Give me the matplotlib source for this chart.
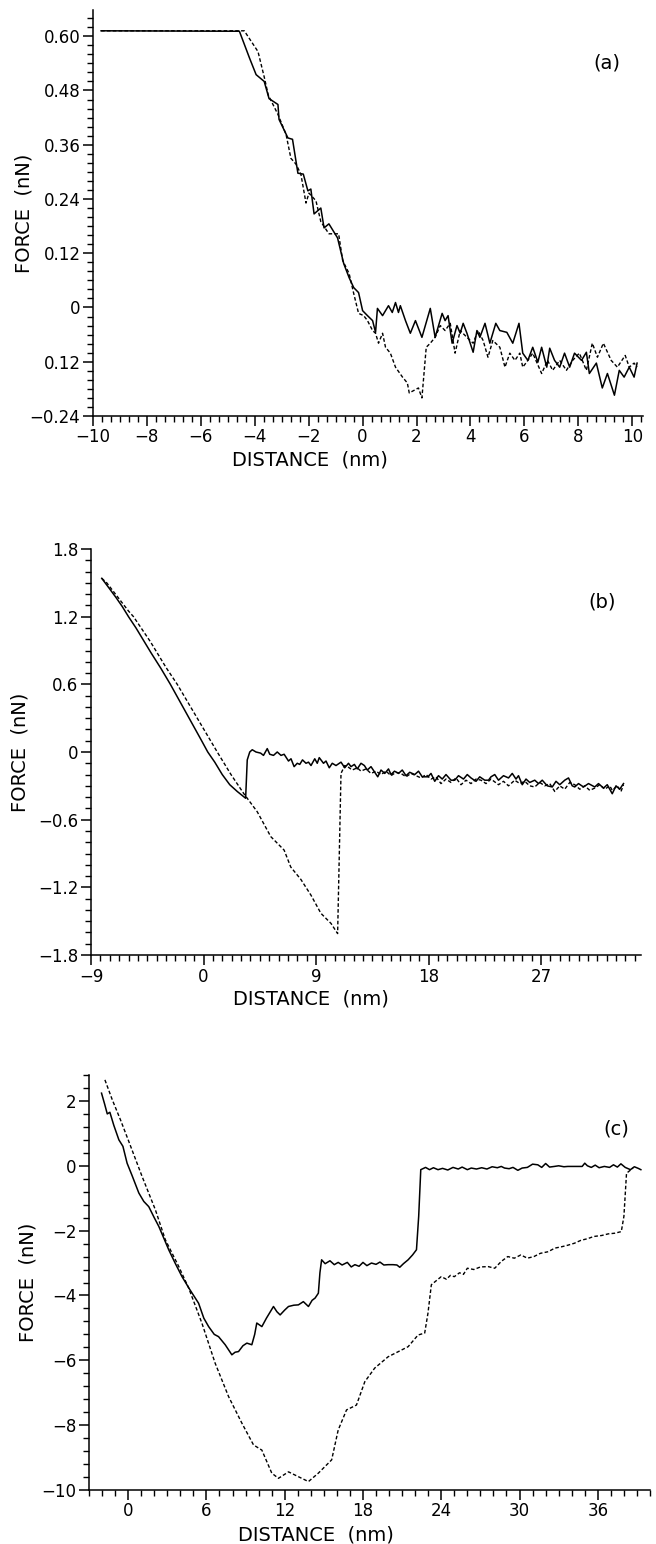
import numpy as np
import matplotlib
matplotlib.use("Agg")
import matplotlib.pyplot as plt
from matplotlib.ticker import MultipleLocator, FixedLocator

# ---- panel (a) ----
a_solid_x = [-9.7, -4.57, -4.19, -3.95, -3.65, -3.47, -3.14, -3.1, -2.77, -2.6, -2.4, -2.2,
             -2.03, -1.92, -1.8, -1.55, -1.43, -1.25, -0.93, -0.7, -0.5, -0.33, -0.15, 0.0,
             0.18, 0.37, 0.48, 0.55, 0.74, 0.96, 1.1, 1.22, 1.33, 1.4, 1.59, 1.77, 1.96,
             2.2, 2.51, 2.69, 2.95, 3.06, 3.17, 3.32, 3.5, 3.62, 3.73, 3.87, 4.1, 4.24,
             4.35, 4.54, 4.72, 4.94, 5.09, 5.35, 5.57, 5.8, 5.94, 6.13, 6.31, 6.5, 6.64,
             6.83, 6.94, 7.12, 7.31, 7.49, 7.68, 7.86, 8.12, 8.3, 8.41, 8.67, 8.89, 9.08,
             9.34, 9.52, 9.7, 9.89, 10.07, 10.18]
a_solid_y = [0.612, 0.611, 0.551, 0.515, 0.50, 0.462, 0.449, 0.416, 0.375, 0.372, 0.297, 0.295,
             0.258, 0.262, 0.207, 0.22, 0.176, 0.185, 0.154, 0.097, 0.066, 0.044, 0.033, -0.007,
             -0.018, -0.029, -0.055, -0.002, -0.018, 0.004, -0.011, 0.011, -0.011, 0.004, -0.029,
             -0.057, -0.029, -0.066, -0.002, -0.066, -0.013, -0.029, -0.018, -0.079, -0.04,
             -0.057, -0.035, -0.057, -0.099, -0.051, -0.066, -0.035, -0.079, -0.035, -0.051,
             -0.055, -0.079, -0.035, -0.101, -0.117, -0.088, -0.121, -0.088, -0.132, -0.09,
             -0.117, -0.132, -0.101, -0.132, -0.101, -0.117, -0.099, -0.146, -0.123, -0.178,
             -0.146, -0.194, -0.139, -0.154, -0.132, -0.154, -0.123]
a_dash_x = [-9.7, -4.39, -3.88, -3.65, -3.5, -3.14, -2.84, -2.66, -2.47, -2.29, -2.1, -1.99,
            -1.73, -1.55, -1.25, -1.11, -0.89, -0.74, -0.5, -0.33, -0.15, 0.04, 0.18, 0.37,
            0.48, 0.59, 0.74, 0.85, 1.03, 1.22, 1.48, 1.66, 1.73, 2.07, 2.2, 2.36, 2.51,
            2.69, 2.88, 3.06, 3.25, 3.43, 3.62, 3.87, 4.1, 4.28, 4.47, 4.65, 4.83, 5.09,
            5.28, 5.46, 5.65, 5.83, 5.94, 6.13, 6.31, 6.64, 6.86, 7.05, 7.31, 7.56, 7.79,
            8.04, 8.3, 8.52, 8.71, 8.93, 9.22, 9.45, 9.74, 9.89, 10.07, 10.18]
a_dash_y = [0.612, 0.612, 0.566, 0.51, 0.47, 0.427, 0.383, 0.33, 0.317, 0.295, 0.231, 0.253,
            0.236, 0.19, 0.163, 0.163, 0.163, 0.104, 0.075, 0.031, -0.013, -0.018, -0.029,
            -0.051, -0.057, -0.079, -0.057, -0.088, -0.101, -0.132, -0.154, -0.167, -0.189,
            -0.178, -0.2, -0.088, -0.079, -0.066, -0.04, -0.051, -0.035, -0.101, -0.051,
            -0.066, -0.079, -0.051, -0.073, -0.11, -0.073, -0.088, -0.132, -0.101, -0.117,
            -0.101, -0.132, -0.117, -0.101, -0.146, -0.117, -0.139, -0.117, -0.139, -0.117,
            -0.101, -0.139, -0.079, -0.11, -0.079, -0.117, -0.132, -0.106, -0.132, -0.123,
            -0.132]
a_yticks = [-0.24, -0.12, 0, 0.12, 0.24, 0.36, 0.48, 0.60]
a_yticklabels = ["\u22120.24", "0.12", "0", "0.12", "0.24", "0.36", "0.48", "0.60"]
a_xticks = [-10, -8, -6, -4, -2, 0, 2, 4, 6, 8, 10]

# ---- panel (b) ----
b_solid_x = [-8.14, -7.6, -7.0, -6.5, -6.0, -5.4, -4.8, -4.2, -3.4, -2.65, -2.0, -1.4, -0.8,
             -0.2, 0.34, 0.9, 1.5, 2.1, 2.7, 3.37,
             3.5, 3.7, 3.9, 4.2, 4.57, 4.8, 5.1, 5.3, 5.6, 5.9, 6.2, 6.45, 6.8, 7.0, 7.25,
             7.5, 7.7, 7.92, 8.2, 8.4, 8.6, 8.9, 9.1, 9.26, 9.6, 9.8, 10.06, 10.3, 10.6,
             11.0, 11.3, 11.6, 11.8, 12.07, 12.3, 12.6, 12.87, 13.1, 13.4, 13.7, 13.94,
             14.2, 14.5, 14.8, 15.0, 15.28, 15.6, 15.9, 16.2, 16.5, 16.9, 17.2, 17.5,
             17.96, 18.2, 18.5, 18.8, 19.1, 19.4, 19.8, 20.1, 20.4, 20.8, 21.1, 21.4, 21.8,
             22.1, 22.5, 22.8, 23.0, 23.3, 23.6, 24.0, 24.4, 24.7, 25.0, 25.2, 25.5, 25.8,
             26.1, 26.5, 26.8, 27.1, 27.5, 27.9, 28.2, 28.5, 28.9, 29.2, 29.5, 29.7, 30.0,
             30.4, 30.8, 31.3, 31.6, 32.0, 32.3, 32.7, 33.0, 33.3, 33.6]
b_solid_y = [1.54, 1.46, 1.37, 1.29, 1.2, 1.1, 0.99, 0.88, 0.74, 0.6, 0.47, 0.35, 0.23,
             0.11, 0.0, -0.09, -0.2, -0.29, -0.35, -0.41,
             -0.07, 0.0, 0.02, 0.0, -0.01, -0.03, 0.03, -0.02, -0.03, 0.0, -0.03, -0.02,
             -0.08, -0.06, -0.13, -0.1, -0.11, -0.07, -0.1, -0.09, -0.12, -0.06, -0.1,
             -0.05, -0.1, -0.08, -0.14, -0.1, -0.12, -0.09, -0.14, -0.1, -0.13, -0.11,
             -0.15, -0.1, -0.12, -0.16, -0.13, -0.18, -0.22, -0.16, -0.19, -0.15, -0.2,
             -0.17, -0.19, -0.16, -0.21, -0.18, -0.2, -0.17, -0.22, -0.22, -0.19, -0.26,
             -0.21, -0.24, -0.2, -0.25, -0.25, -0.21, -0.24, -0.2, -0.23, -0.26, -0.22,
             -0.25, -0.25, -0.22, -0.2, -0.25, -0.21, -0.23, -0.19, -0.24, -0.21, -0.29,
             -0.24, -0.27, -0.25, -0.28, -0.25, -0.3, -0.31, -0.26, -0.29, -0.25, -0.23,
             -0.3, -0.31, -0.28, -0.31, -0.28, -0.31, -0.28, -0.32, -0.29, -0.37, -0.3,
             -0.33, -0.28]
b_dash_x = [-8.14, -7.74, -6.0, -5.6, -4.26, -3.0, -2.1, -0.5, 1.1, 2.2, 3.23, 4.3, 5.38,
            6.45, 6.98, 7.79, 8.6, 9.39, 10.2, 10.73,
            11.0, 11.3, 11.53, 11.9, 12.3, 12.6, 13.0, 13.4, 13.8, 14.2, 14.6, 15.0, 15.4,
            15.8, 16.2, 16.6, 17.0, 17.4, 17.8, 18.2, 18.6, 19.0, 19.4, 19.8, 20.2, 20.6,
            21.0, 21.4, 21.8, 22.2, 22.6, 23.0, 23.6, 24.0, 24.4, 24.9, 25.3, 25.7, 26.1,
            26.5, 26.9, 27.3, 27.7, 28.1, 28.5, 28.9, 29.3, 29.7, 30.1, 30.5, 30.9, 31.3,
            31.7, 32.1, 32.5, 32.7, 33.1, 33.4, 33.6]
b_dash_y = [1.54, 1.5, 1.25, 1.2, 0.98, 0.75, 0.6, 0.3, 0.0, -0.2, -0.37, -0.53, -0.75,
            -0.87, -1.02, -1.13, -1.27, -1.43, -1.52, -1.61,
            -0.19, -0.12, -0.13, -0.16, -0.14, -0.17, -0.15, -0.19, -0.17, -0.2, -0.17,
            -0.21, -0.18, -0.19, -0.22, -0.19, -0.21, -0.23, -0.2, -0.24, -0.22, -0.28,
            -0.24, -0.27, -0.23, -0.29, -0.25, -0.28, -0.24, -0.25, -0.28, -0.24, -0.29,
            -0.26, -0.3, -0.25, -0.28, -0.26, -0.3, -0.31, -0.27, -0.3, -0.28, -0.35,
            -0.3, -0.33, -0.27, -0.29, -0.33, -0.3, -0.34, -0.32, -0.29, -0.33, -0.3,
            -0.34, -0.3, -0.35, -0.29]
b_yticks = [-1.8, -1.2, -0.6, 0, 0.6, 1.2, 1.8]
b_yticklabels = ["\u22121.8", "\u22121.2", "\u22120.6", "0", "0.6", "1.2", "1.8"]
b_xticks = [-9, 0, 9, 18, 27]

# ---- panel (c) ----
c_solid_x = [-2.04, -1.8, -1.6, -1.4, -1.1, -0.71, -0.4, -0.08, 0.3, 0.82, 1.2, 1.58, 2.0,
             2.35, 2.7, 3.11, 3.6, 4.13, 4.7, 5.4, 5.8, 6.17, 6.6, 6.93, 7.44, 7.95, 8.2,
             8.46, 8.8, 9.1, 9.48, 9.7, 9.86, 10.25, 10.6, 11.14, 11.4, 11.65, 12.0, 12.29,
             12.7, 13.05, 13.43, 13.82, 14.1, 14.33, 14.58, 14.7, 14.83,
             15.1, 15.47, 15.8, 16.1, 16.4, 16.8, 17.1, 17.38, 17.7, 18.0, 18.3, 18.65,
             19.0, 19.3, 19.6, 19.93, 20.3, 20.6, 20.82, 21.1, 21.46, 21.8, 22.1, 22.27,
             22.43, 22.8, 23.1, 23.4, 23.75, 24.1, 24.5, 24.9, 25.3, 25.6, 26.0, 26.3,
             26.7, 27.1, 27.5, 27.9, 28.3, 28.6, 28.85, 29.2, 29.5, 29.87, 30.2, 30.6,
             31.0, 31.4, 31.7, 32.0, 32.3, 32.67, 33.0, 33.4, 33.7, 34.0, 34.4, 34.8,
             35.0, 35.2, 35.5, 35.8, 36.1, 36.5, 36.9, 37.2, 37.5, 37.77, 38.1, 38.5,
             38.8, 39.1, 39.3]
c_solid_y = [2.24, 1.9, 1.6, 1.65, 1.25, 0.8, 0.6, 0.08, -0.3, -0.84, -1.1, -1.26, -1.6,
             -1.87, -2.2, -2.59, -3.0, -3.42, -3.8, -4.24, -4.7, -4.96, -5.2, -5.27, -5.52,
             -5.83, -5.75, -5.73, -5.55, -5.47, -5.52, -5.2, -4.85, -4.96, -4.7, -4.34,
             -4.5, -4.6, -4.45, -4.34, -4.3, -4.29, -4.19, -4.34, -4.15, -4.08, -3.93,
             -3.3, -2.9,
             -3.02, -2.93, -3.05, -2.98, -3.06, -2.98, -3.12, -3.05, -3.1, -2.98, -3.08,
             -3.0, -3.04, -2.97, -3.06, -3.05, -3.05, -3.06, -3.13, -3.02, -2.9, -2.75,
             -2.59, -1.56,
             -0.12, -0.05, -0.12, -0.06, -0.12, -0.08, -0.13, -0.05, -0.1, -0.04, -0.12,
             -0.07, -0.1, -0.06, -0.1, -0.03, -0.06, -0.02, -0.07, -0.09, -0.05, -0.14,
             -0.07, -0.05, 0.05, 0.03, -0.05, 0.07, -0.04, -0.02, 0.0, -0.03, -0.02,
             -0.02, -0.02, -0.02, 0.08, 0.0, -0.05, 0.02, -0.06, -0.02, -0.05, 0.03, -0.04,
             0.06, -0.05, -0.12, -0.03, -0.08, -0.12]
c_dash_x = [-1.78, -1.22, -0.59, 0.05, 1.07, 2.09, 2.85, 3.87, 4.64, 5.66, 6.67, 7.7, 8.72,
            9.61, 10.25, 11.01, 11.52, 12.29, 13.05, 13.82, 14.58, 15.6, 16.1, 16.74, 17.5,
            18.14, 18.9, 19.93, 21.46, 22.22, 22.73, 22.98, 23.24, 23.6, 24.0, 24.4, 24.7,
            25.0, 25.4, 25.7, 26.0, 26.5, 27.0, 27.6, 28.1, 28.6, 29.1, 29.6, 30.1, 30.6,
            31.1, 31.6, 32.2, 32.7, 33.2, 33.7, 34.2, 34.7, 35.2, 35.7, 36.3, 36.8, 37.3,
            37.8, 38.0, 38.2, 38.7]
c_dash_y = [2.65, 2.04, 1.42, 0.75, -0.33, -1.36, -2.28, -3.1, -3.77, -4.86, -6.09, -7.12,
            -7.94, -8.61, -8.77, -9.48, -9.64, -9.44, -9.59, -9.74, -9.48, -9.07, -8.15,
            -7.53, -7.38, -6.66, -6.24, -5.89, -5.58, -5.22, -5.16, -4.55, -3.67, -3.55,
            -3.42, -3.5, -3.38, -3.42, -3.3, -3.35, -3.16, -3.2, -3.12, -3.11, -3.16,
            -2.95, -2.8, -2.85, -2.75, -2.85, -2.8, -2.7, -2.65, -2.54, -2.5, -2.45,
            -2.39, -2.3, -2.25, -2.18, -2.15, -2.1, -2.08, -2.03, -1.56, -0.23, -0.07]
c_yticks = [-10, -8, -6, -4, -2, 0, 2]
c_yticklabels = ["\u221210", "\u22128", "\u22126", "\u22124", "\u22122", "0", "2"]
c_xticks = [0, 6, 12, 18, 24, 30, 36]

W, H = 656, 1544
fig = plt.figure(figsize=(W / 100, H / 100), dpi=100)
fig.patch.set_facecolor("white")

DASH = (0, (2.6, 1.6))


def make_axes(px_left, px_right, px_top, px_bottom):
    return fig.add_axes([px_left / W, 1 - px_bottom / H,
                         (px_right - px_left) / W, (px_bottom - px_top) / H])


def style_axes(ax, xlim, ylim, xticks, xminor, yticks, yticklabels, yminor, label, label_xy,
               xlabel_x, ylabel_x):
    ax.set_xlim(*xlim)
    ax.set_ylim(*ylim)
    for side in ["top", "right"]:
        ax.spines[side].set_visible(False)
    for side in ["left", "bottom"]:
        ax.spines[side].set_linewidth(1.1)
    ax.xaxis.set_major_locator(FixedLocator(xticks))
    ax.xaxis.set_minor_locator(MultipleLocator(xminor))
    ax.set_xticklabels([str(t).replace("-", "\u2212") for t in xticks])
    ax.set_yticks(yticks)
    ax.set_yticklabels(yticklabels)
    ax.yaxis.set_minor_locator(MultipleLocator(yminor))
    ax.tick_params(which="major", direction="out", length=7, width=1.1, labelsize=12, pad=2)
    ax.tick_params(which="minor", direction="out", length=4, width=1.0)
    ax.set_ylabel("FORCE  (nN)", fontsize=14)
    ax.set_xlabel("DISTANCE  (nm)", fontsize=14)
    ax.xaxis.set_label_coords(xlabel_x, -0.085)
    ax.yaxis.set_label_coords(ylabel_x, 0.5)
    ax.text(label_xy[0], label_xy[1], label, transform=ax.transAxes, fontsize=14,
            ha="center", va="center")


# (a)
ax = make_axes(93, 643, 10, 416)
ax.plot(a_solid_x, a_solid_y, color="black", lw=1.1)
ax.plot(a_dash_x, a_dash_y, color="black", lw=1.0, linestyle=DASH)
style_axes(ax, (-10, 10.4), (-0.24, 0.658), a_xticks, 1 / 3, a_yticks, a_yticklabels, 0.02,
           "(a)", (0.935, 0.87), 0.395, -0.109)

# (b)
ax = make_axes(91, 641, 549, 955)
ax.plot(b_solid_x, b_solid_y, color="black", lw=1.1)
ax.plot(b_dash_x, b_dash_y, color="black", lw=1.0, linestyle=DASH)
style_axes(ax, (-9, 35), (-1.8, 1.8), b_xticks, 0.75, b_yticks, b_yticklabels, 0.1,
           "(b)", (0.93, 0.87), 0.4, -0.111)

# (c)
ax = make_axes(89, 650, 1075, 1490)
ax.plot(c_solid_x, c_solid_y, color="black", lw=1.1)
ax.plot(c_dash_x, c_dash_y, color="black", lw=1.0, linestyle=DASH)
style_axes(ax, (-3, 40), (-10, 2.8), c_xticks, 1, c_yticks, c_yticklabels, 0.4,
           "(c)", (0.94, 0.87), 0.405, -0.091)

fig.savefig("out.png", dpi=100, facecolor="white")
